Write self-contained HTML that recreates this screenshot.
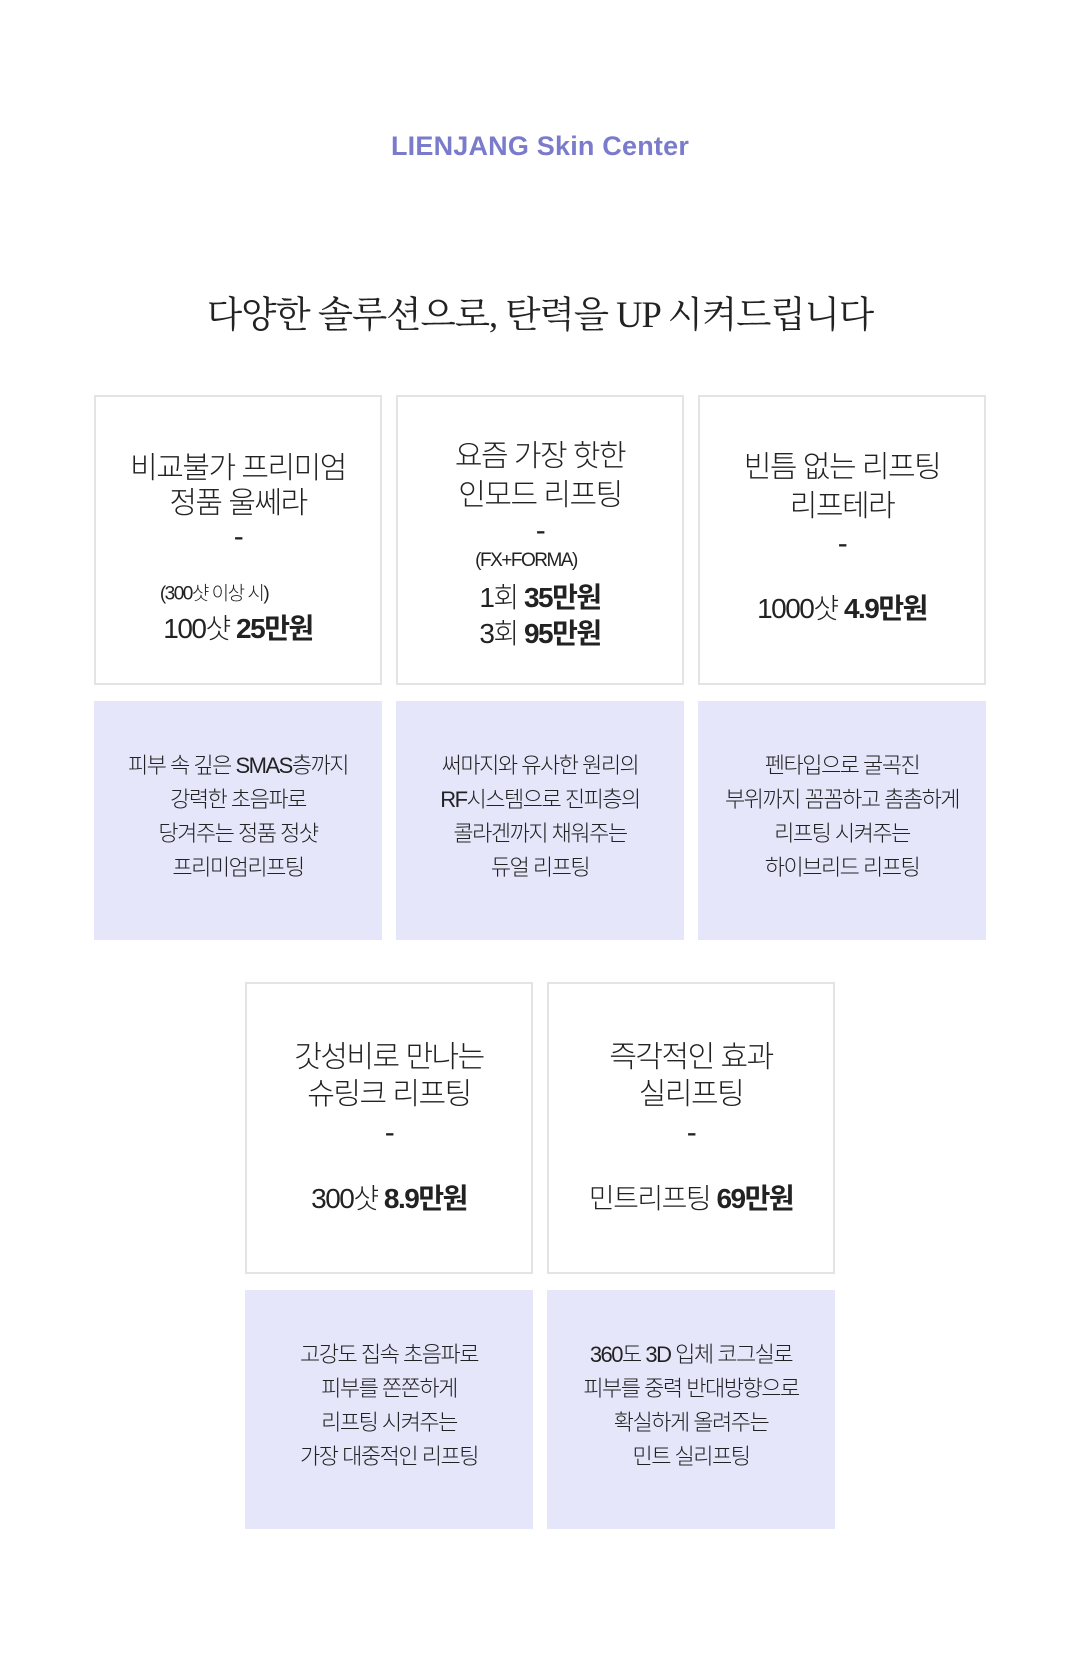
<!DOCTYPE html>
<html><head><meta charset="utf-8"><style>
body{margin:0;width:1080px;height:1671px;background:#fff;position:relative;font-family:"Liberation Sans","Noto Sans CJK KR",sans-serif;color:#222;overflow:hidden}
.a{position:absolute;left:0;right:0;text-align:center;white-space:nowrap}
.box{position:absolute;box-sizing:border-box;border:2px solid #e4e4e4;background:#fff}
.pur{position:absolute;background:#e6e6fb}
.t{position:absolute;left:0;right:0;text-align:center;white-space:nowrap;transform:translateY(-50%);letter-spacing:-1.5px}
.h{font-size:30px;font-weight:300}
.p{font-size:28px;font-weight:300}
.p b{font-weight:700}
.s{font-size:19px;font-weight:300}
.d{font-size:22px;line-height:34px;letter-spacing:-1.5px;font-weight:300}
</style></head><body>
<div class="a" style="top:131px;font-size:27px;font-weight:bold;color:#7b7bcc;letter-spacing:0.2px">LIENJANG Skin Center</div>
<div class="a" style="top:286px;font-size:36.5px;font-family:'Liberation Serif','Noto Serif CJK SC',serif;letter-spacing:-1px">다양한 솔루션으로, 탄력을 UP 시켜드립니다</div>

<div class="box" style="left:94px;top:395px;width:288px;height:290px">
 <div class="t h" style="top:68px">비교불가 프리미엄</div>
 <div class="t h" style="top:103px">정품 울쎄라</div>
 <div class="t h" style="top:140px">-</div>
 <div class="t s" style="top:195px;left:-48px">(300샷 이상 시)</div>
 <div class="t p" style="top:230px">100샷 <b>25만원</b></div>
</div>
<div class="box" style="left:396px;top:395px;width:288px;height:290px">
 <div class="t h" style="top:56px">요즘 가장 핫한</div>
 <div class="t h" style="top:95px">인모드 리프팅</div>
 <div class="t h" style="top:134px">-</div>
 <div class="t s" style="top:164px;left:-28px">(FX+FORMA)</div>
 <div class="t p" style="top:199px">1회 <b>35만원</b></div>
 <div class="t p" style="top:235px">3회 <b>95만원</b></div>
</div>
<div class="box" style="left:698px;top:395px;width:288px;height:290px">
 <div class="t h" style="top:67px">빈틈 없는 리프팅</div>
 <div class="t h" style="top:106px">리프테라</div>
 <div class="t h" style="top:147px">-</div>
 <div class="t p" style="top:210px">1000샷 <b>4.9만원</b></div>
</div>

<div class="pur" style="left:94px;top:701px;width:288px;height:239px"><div class="a d" style="top:48px">피부 속 깊은 SMAS층까지<br>강력한 초음파로<br>당겨주는 정품 정샷<br>프리미엄리프팅</div></div>
<div class="pur" style="left:396px;top:701px;width:288px;height:239px"><div class="a d" style="top:48px">써마지와 유사한 원리의<br>RF시스템으로 진피층의<br>콜라겐까지 채워주는<br>듀얼 리프팅</div></div>
<div class="pur" style="left:698px;top:701px;width:288px;height:239px"><div class="a d" style="top:48px">펜타입으로 굴곡진<br>부위까지 꼼꼼하고 촘촘하게<br>리프팅 시켜주는<br>하이브리드 리프팅</div></div>

<div class="box" style="left:245px;top:982px;width:288px;height:292px">
 <div class="t h" style="top:70px">갓성비로 만나는</div>
 <div class="t h" style="top:107px">슈링크 리프팅</div>
 <div class="t h" style="top:149px">-</div>
 <div class="t p" style="top:213px">300샷 <b>8.9만원</b></div>
</div>
<div class="box" style="left:547px;top:982px;width:288px;height:292px">
 <div class="t h" style="top:70px">즉각적인 효과</div>
 <div class="t h" style="top:107px">실리프팅</div>
 <div class="t h" style="top:149px">-</div>
 <div class="t p" style="top:213px">민트리프팅 <b>69만원</b></div>
</div>

<div class="pur" style="left:245px;top:1290px;width:288px;height:239px"><div class="a d" style="top:48px">고강도 집속 초음파로<br>피부를 쫀쫀하게<br>리프팅 시켜주는<br>가장 대중적인 리프팅</div></div>
<div class="pur" style="left:547px;top:1290px;width:288px;height:239px"><div class="a d" style="top:48px">360도 3D 입체 코그실로<br>피부를 중력 반대방향으로<br>확실하게 올려주는<br>민트 실리프팅</div></div>
</body></html>
